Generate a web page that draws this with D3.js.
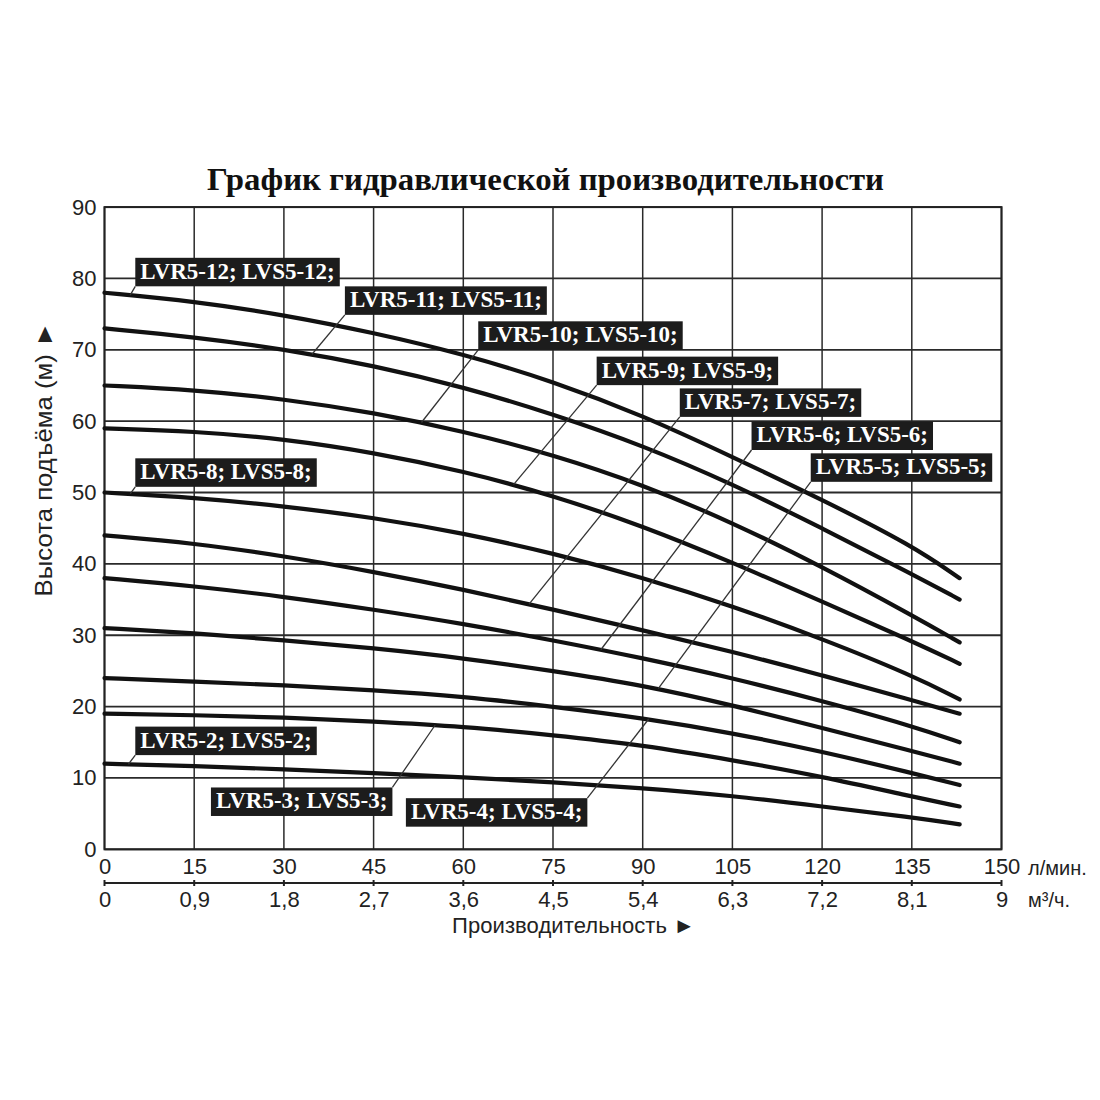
<!DOCTYPE html>
<html>
<head>
<meta charset="utf-8">
<script src="https://cdn.jsdelivr.net/npm/d3@7"></script>
<style>
    body { margin: 0; background: #fff; }
</style>
</head>
<body>
<script>
// расход, л/мин (точки отсчёта кривых)
let flow = [0, 15, 30, 45, 60, 75, 90, 105, 120, 135, 143]

// напор, м
let head12 = [78, 76.8, 74.9, 72.4, 69.4, 65.6, 60.8, 55.0, 49.0, 42.6, 38]
let head11 = [73, 71.8, 70.1, 67.8, 64.8, 61.0, 56.6, 51.2, 45.0, 38.6, 35]
let head10 = [65, 64.4, 63.1, 61.2, 58.6, 55.3, 51.1, 45.8, 39.6, 32.8, 29]
let head9 = [59, 58.6, 57.5, 55.6, 53.0, 49.6, 45.3, 40.2, 34.7, 29.2, 26]
let head8 = [50, 49.3, 48.1, 46.5, 44.3, 41.5, 38.1, 34.1, 29.5, 24.4, 21]
let head7 = [44, 42.9, 41.1, 38.9, 36.4, 33.6, 30.7, 27.7, 24.4, 20.9, 19]
let head6 = [38, 36.9, 35.4, 33.6, 31.6, 29.3, 26.8, 24.0, 20.8, 17.3, 15]
let head5 = [31, 30.3, 29.3, 28.2, 26.8, 25.0, 23.0, 20.2, 17.0, 13.8, 12]
let head4 = [24, 23.5, 23.0, 22.3, 21.4, 20.0, 18.4, 16.3, 13.7, 10.7, 9]
let head3 = [19, 18.8, 18.5, 17.9, 17.2, 16.0, 14.6, 12.5, 10.2, 7.4, 6]
let head2 = [12, 11.7, 11.2, 10.7, 10.1, 9.4, 8.6, 7.5, 6.0, 4.5, 3.5]

let models = ['LVR5-12; LVS5-12;', 'LVR5-11; LVS5-11;', 'LVR5-10; LVS5-10;', 'LVR5-9; LVS5-9;',
    'LVR5-8; LVS5-8;', 'LVR5-7; LVS5-7;', 'LVR5-6; LVS5-6;', 'LVR5-5; LVS5-5;',
    'LVR5-4; LVS5-4;', 'LVR5-3; LVS5-3;', 'LVR5-2; LVS5-2;']

let flowTicks = [0, 15, 30, 45, 60, 75, 90, 105, 120, 135, 150]
let m3Ticks = [0, 0.9, 1.8, 2.7, 3.6, 4.5, 5.4, 6.3, 7.2, 8.1, 9]
let headTicks = [0, 10, 20, 30, 40, 50, 60, 70, 80, 90]

{
    let width = 1100
    let height = 1100
    let sans = "'Liberation Sans', Arial, sans-serif"
    let serif = "'Liberation Serif', 'Times New Roman', serif"

    let svg = d3.select('body').append('svg')
    svg.attr('width', width)
        .attr('height', height)
        .style('background', '#fff')

    let x = d3.scaleLinear().domain([0, 150]).range([104.5, 1001.5])
    let y = d3.scaleLinear().domain([0, 90]).range([849.3, 207.1])
    let xm = d3.scaleLinear().domain([0, 9]).range(x.range())

    let heads = [head12, head11, head10, head9, head8, head7, head6, head5, head4, head3, head2]
    let curves = models.map((name, i) => ({
        name: name,
        points: flow.map((q, j) => [q, heads[i][j]])
    }))

    // сетка
    let grid = svg.append('g')
    grid.selectAll('line.v').data(flowTicks)
        .enter()
        .append('line')
        .attr('class', 'v')
        .attr('x1', d => x(d))
        .attr('x2', d => x(d))
        .attr('y1', y(0))
        .attr('y2', y(90))
        .attr('stroke', '#2a2a2a')
        .attr('stroke-width', 1.5)
    grid.selectAll('line.h').data(headTicks)
        .enter()
        .append('line')
        .attr('class', 'h')
        .attr('x1', x(0))
        .attr('x2', x(150))
        .attr('y1', d => y(d))
        .attr('y2', d => y(d))
        .attr('stroke', '#2a2a2a')
        .attr('stroke-width', 1.8)
    grid.append('rect')
        .attr('x', x(0))
        .attr('y', y(90))
        .attr('width', x(150) - x(0))
        .attr('height', y(0) - y(90))
        .attr('fill', 'none')
        .attr('stroke', '#222')
        .attr('stroke-width', 2)

    // кривые
    let line = d3.line()
        .x(d => x(d[0]))
        .y(d => y(d[1]))
        .curve(d3.curveBasis)
    svg.append('g').selectAll('path.curve').data(curves)
        .enter()
        .append('path')
        .attr('class', 'curve')
        .attr('d', d => line(d.points))
        .attr('fill', 'none')
        .attr('stroke', '#111')
        .attr('stroke-width', 4.2)
        .attr('stroke-linecap', 'round')

    // подписи моделей: угол плашки (q, v), точка выноски на кривой (lq)
    let labelLayout = [
        {i: 0, q: 5.15, v: 78.9, lq: 4.3, from: 'bl'},
        {i: 1, q: 40.2, v: 74.9, lq: 34.7, from: 'bl'},
        {i: 2, q: 62.5, v: 70.0, lq: 53, from: 'bl'},
        {i: 3, q: 82.3, v: 65.05, lq: 68.4, from: 'bl'},
        {i: 4, q: 5.15, v: 50.8, lq: 4.3, from: 'bl'},
        {i: 5, q: 96.2, v: 60.6, lq: 71, from: 'bl'},
        {i: 6, q: 108.2, v: 55.96, lq: 83, from: 'bl'},
        {i: 7, q: 118.1, v: 51.5, lq: 92.6, from: 'bl'},
        {i: 8, q: 50.4, v: 3.17, lq: 91, from: 'tr'},
        {i: 9, q: 17.8, v: 4.67, lq: 55.3, from: 'tr'},
        {i: 10, q: 5.15, v: 13.2, lq: 4, from: 'bl'}
    ]
    let boxH = 28.5
    let labels = svg.append('g')
    labelLayout.forEach(l => {
        let c = curves[l.i]
        let along = d3.scaleLinear().domain(flow).range(c.points.map(p => p[1]))
        let bx = x(l.q)
        let by = y(l.v)
        let g = labels.append('g')
        let rect = g.append('rect')
        let t = g.append('text')
            .attr('x', bx + 5)
            .attr('y', by - 7.6)
            .attr('font-family', serif)
            .attr('font-weight', 'bold')
            .attr('font-size', 23)
            .attr('fill', '#fff')
            .text(c.name)
        let w = t.node().getComputedTextLength() + 10
        rect.attr('x', bx)
            .attr('y', by - boxH)
            .attr('width', w)
            .attr('height', boxH)
            .attr('fill', '#1c1c1c')
        let sx = l.from === 'bl' ? bx : bx + w
        let sy = l.from === 'bl' ? by : by - boxH
        labels.append('line')
            .attr('x1', sx)
            .attr('y1', sy)
            .attr('x2', x(l.lq))
            .attr('y2', y(along(l.lq)))
            .attr('stroke', '#333')
            .attr('stroke-width', 1.3)
    })

    // ось напора
    let gy = svg.append('g')
        .attr('transform', `translate(${x(0)},0)`)
        .call(d3.axisLeft(y).tickValues(headTicks).tickSize(0).tickPadding(8))
    gy.select('.domain').remove()
    gy.selectAll('text')
        .attr('font-family', sans)
        .attr('font-size', 22)
        .attr('fill', '#222')

    // ось расхода, л/мин
    let gx = svg.append('g')
        .attr('transform', `translate(0,${y(0)})`)
        .call(d3.axisBottom(x).tickValues(flowTicks).tickSize(0).tickPadding(9))
    gx.select('.domain').remove()
    gx.selectAll('text')
        .attr('font-family', sans)
        .attr('font-size', 22)
        .attr('fill', '#222')

    // ось расхода, м³/ч
    let m3Y = 883
    let comma = d3.formatLocale({decimal: ',', thousands: ' ', grouping: [3], currency: ['', '']})
    let gm = svg.append('g')
        .attr('transform', `translate(0,${m3Y})`)
        .call(d3.axisBottom(xm).tickValues(m3Ticks).tickSize(0).tickPadding(8.5)
            .tickFormat(comma.format('~g')))
    gm.select('.domain').remove()
    gm.selectAll('text')
        .attr('font-family', sans)
        .attr('font-size', 22)
        .attr('fill', '#222')
    gm.append('line')
        .attr('x1', xm(0))
        .attr('x2', xm(9))
        .attr('stroke', '#222')
        .attr('stroke-width', 2)
    gm.selectAll('line.tk').data(m3Ticks)
        .enter()
        .append('line')
        .attr('class', 'tk')
        .attr('x1', d => xm(d))
        .attr('x2', d => xm(d))
        .attr('y1', -3)
        .attr('y2', 3)
        .attr('stroke', '#222')
        .attr('stroke-width', 2)

    // единицы
    svg.append('text')
        .attr('x', 1028)
        .attr('y', 874.5)
        .attr('font-family', sans)
        .attr('font-size', 20)
        .attr('fill', '#222')
        .text('л/мин.')
    svg.append('text')
        .attr('x', 1028)
        .attr('y', 907)
        .attr('font-family', sans)
        .attr('font-size', 20)
        .attr('fill', '#222')
        .text('м³/ч.')

    svg.append('text')
        .attr('x', 452)
        .attr('y', 933)
        .attr('font-family', sans)
        .attr('font-size', 22)
        .attr('textLength', 243)
        .attr('fill', '#222')
        .text('Производительность ►')

    svg.append('text')
        .attr('transform', 'translate(43,459) rotate(-90)')
        .attr('text-anchor', 'middle')
        .attr('dominant-baseline', 'central')
        .attr('font-family', sans)
        .attr('font-size', 24)
        .attr('textLength', 275)
        .attr('lengthAdjust', 'spacingAndGlyphs')
        .attr('fill', '#222')
        .text('Высота подъёма (м) ►')

    // заголовок
    svg.append('text')
        .attr('x', 545.5)
        .attr('y', 190)
        .attr('text-anchor', 'middle')
        .attr('font-family', serif)
        .attr('font-weight', 'bold')
        .attr('font-size', 32)
        .attr('textLength', 677)
        .attr('lengthAdjust', 'spacingAndGlyphs')
        .attr('fill', '#111')
        .text('График гидравлической производительности')
}
</script>
</body>
</html>
